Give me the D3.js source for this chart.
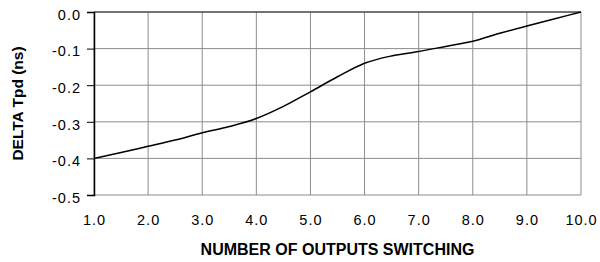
<!DOCTYPE html>
<html>
<head>
<meta charset="utf-8">
<script src="https://cdn.jsdelivr.net/npm/d3@7"></script>
<style>
    body { margin: 0; background: #fff; }
    svg { display: block; font-family: "Liberation Sans", Arial, sans-serif; }
</style>
</head>
<body>
<svg></svg>
<script>
// values
var outputs = [1.0, 1.5, 2.0, 2.5, 3.0, 3.5, 4.0, 4.5, 5.0, 5.5, 6.0, 6.5, 7.0, 7.5, 8.0, 8.5, 9.0, 9.5, 10.0];
var deltaTpd = [-0.400, -0.384, -0.367, -0.350, -0.330, -0.313, -0.291, -0.258, -0.218, -0.177, -0.140, -0.120, -0.108, -0.094, -0.080, -0.058, -0.038, -0.019, 0.000];
var xTicks = [1, 2, 3, 4, 5, 6, 7, 8, 9, 10];
var yTicks = [0, -0.1, -0.2, -0.3, -0.4, -0.5];

var width = 600, height = 262;
var margin = {top: 12, right: 19, bottom: 67, left: 94};

var svg = d3.select('svg')
    .attr('width', width)
    .attr('height', height);

var x = d3.scaleLinear()
    .domain([1, 10])
    .range([margin.left, width - margin.right]);

var y = d3.scaleLinear()
    .domain([-0.5, 0])
    .range([height - margin.bottom, margin.top]);

var data = outputs.map(function(d, i) { return {x: d, y: deltaTpd[i]}; });

// plain hyphen instead of d3's unicode minus
var fmt = d => d.toFixed(1);

// grid lines
svg.append('g')
    .selectAll('line.v')
    .data(xTicks)
    .enter().append('line')
    .attr('x1', d => x(d)).attr('x2', d => x(d))
    .attr('y1', y(0)).attr('y2', y(-0.5))
    .attr('stroke', '#8c8c8c')
    .attr('stroke-width', 1);

svg.append('g')
    .selectAll('line.h')
    .data(yTicks)
    .enter().append('line')
    .attr('x1', x(1)).attr('x2', x(10))
    .attr('y1', d => y(d)).attr('y2', d => y(d))
    .attr('stroke', d => d === 0 ? '#444' : '#8c8c8c')
    .attr('stroke-width', d => d === 0 ? 1.5 : 1);

// y axis (black, with ticks to the left)
var yAxis = d3.axisLeft(y)
    .tickValues(yTicks)
    .tickFormat(fmt)
    .tickSize(7)
    .tickPadding(6);

var gy = svg.append('g')
    .attr('transform', `translate(${x(1)},0)`)
    .call(yAxis);
gy.select('.domain').attr('stroke', '#000').attr('stroke-width', 1.5);
gy.selectAll('.tick line').attr('stroke', '#000');
gy.selectAll('.tick text')
    .attr('fill', '#000')
    .style('font-size', '14.5px')
    .style('letter-spacing', '1px')
    .attr('dy', '0.5em');

// x axis labels only
var xAxis = d3.axisBottom(x)
    .tickValues(xTicks)
    .tickFormat(fmt)
    .tickSize(0)
    .tickPadding(20);

var gx = svg.append('g')
    .attr('transform', `translate(0,${y(-0.5)})`)
    .call(xAxis);
gx.select('.domain').remove();
gx.selectAll('.tick text')
    .attr('fill', '#000')
    .style('font-size', '14.5px')
    .style('letter-spacing', '1px');

// curve
var line = d3.line()
    .x(d => x(d.x))
    .y(d => y(d.y))
    .curve(d3.curveMonotoneX);

svg.append('path')
    .datum(data)
    .attr('d', line)
    .attr('fill', 'none')
    .attr('stroke', '#000')
    .attr('stroke-width', 1.5);

// axis titles
svg.append('text')
    .attr('x', (x(1) + x(10)) / 2)
    .attr('y', 255)
    .attr('text-anchor', 'middle')
    .style('font-weight', 'bold')
    .style('font-size', '16px')
    .text('NUMBER OF OUTPUTS SWITCHING');

svg.append('text')
    .attr('transform', `translate(23,${(y(0) + y(-0.5)) / 2}) rotate(-90)`)
    .attr('text-anchor', 'middle')
    .style('font-weight', 'bold')
    .style('font-size', '15.5px')
    .text('DELTA Tpd (ns)');
</script>
</body>
</html>
